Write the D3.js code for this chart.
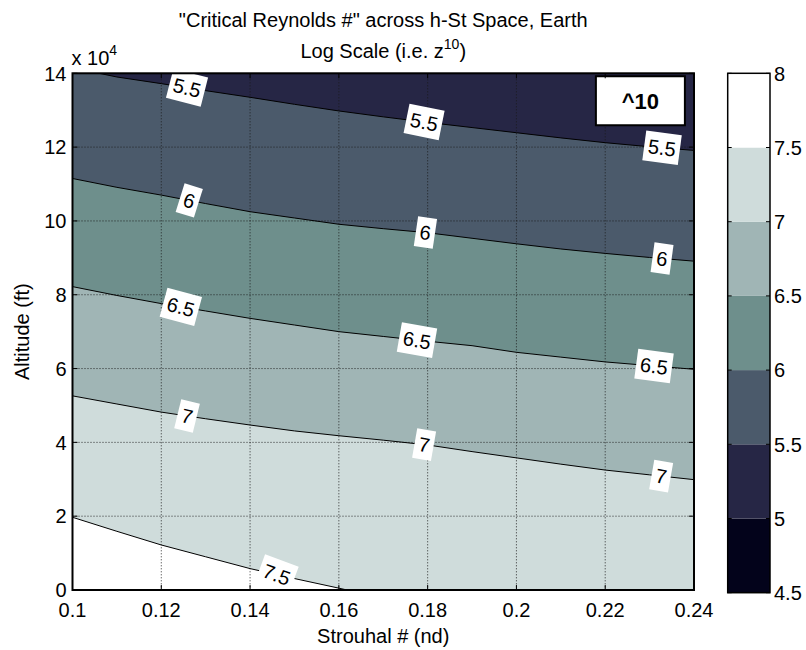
<!DOCTYPE html>
<html>
<head>
<meta charset="utf-8">
<script src="https://cdn.jsdelivr.net/npm/d3@7/dist/d3.min.js"></script>
<style>
body { margin:0; background:#fff; }
text { font-family: Arial, "Liberation Sans", sans-serif; fill:#000; }
</style>
</head>
<body>
<div id="chart-area"></div>
<script>
// Strouhal number samples along x
var strouhal = [0.10,0.11,0.12,0.13,0.14,0.15,0.16,0.17,0.18,0.19,0.20,0.21,0.22,0.23,0.24];

// altitude (ft) where log10(Re_crit) crosses each contour level
var alt55 = [141500,139000,137200,135300,133500,131600,129800,128200,126700,125300,123900,122500,121200,120100,119100];
var alt60 = [111500,109100,107000,104700,102500,100800,99100,97900,96800,95300,93800,92400,91200,90100,89100];
var alt65 = [82200,79800,77600,75600,73600,71800,70000,68700,67400,66200,64400,63100,61800,60800,59800];
var alt70 = [52600,50400,48200,46400,44700,43100,41800,40600,39300,37500,35800,34100,32500,31200,29900];
var alt75 = [19700,15900,12200,9000,5800,3100,500,-2200,null,null,null,null,null,null,null];

var levels = [5.5, 6, 6.5, 7, 7.5];
var levelAlts = [alt55, alt60, alt65, alt70, alt75];

// colorbar
var cbLevels = [4.5, 5, 5.5, 6, 6.5, 7, 7.5, 8];
var cbColors = ["#03031b","#262645","#4b5a6b","#6e8f8c","#a0b5b5","#cfdcdb","#ffffff"];

// contour label spots (level, strouhal)
var labelLevels = [5.5,5.5,5.5, 6,6,6, 6.5,6.5,6.5, 7,7,7, 7.5];
var labelSt = [0.1258,0.1792,0.2328, 0.1263,0.1795,0.2328, 0.1244,0.1776,0.231, 0.1258,0.1792,0.2326, 0.146];

var xTicks = [0.1,0.12,0.14,0.16,0.18,0.2,0.22,0.24];
var yTicks = [0,20000,40000,60000,80000,100000,120000,140000];

var margin = {left:72.5, top:73.3};
var width = 621.5;
var height = 516.7;

var svg = d3.select("#chart-area")
	.append("svg")
		.attr("width", 806)
		.attr("height", 650);

var g = svg.append("g")
	.attr("transform", "translate(" + margin.left + "," + margin.top + ")");

var x = d3.scaleLinear().domain([0.1, 0.24]).range([0, width]);
var y = d3.scaleLinear().domain([0, 140000]).range([height, 0]);

g.append("clipPath").attr("id", "plotclip")
	.append("rect").attr("width", width).attr("height", height);

var plot = g.append("g").attr("clip-path", "url(#plotclip)");

function pts(alts){
	return strouhal.map(function(s, i){ return {st:s, alt:alts[i]}; });
}
function colorFor(level){
	return cbColors[cbLevels.indexOf(level)];
}

// background band (5 - 5.5)
plot.append("rect")
	.attr("width", width)
	.attr("height", height)
	.attr("fill", colorFor(5));

var area = d3.area()
	.defined(function(d){ return d.alt !== null; })
	.x(function(d){ return x(d.st); })
	.y0(y(0))
	.y1(function(d){ return y(d.alt); });

levels.forEach(function(lv, i){
	plot.append("path")
		.datum(pts(levelAlts[i]))
		.attr("fill", colorFor(lv))
		.attr("d", area);
});

// grid
plot.selectAll(".gx").data(xTicks.slice(1, -1)).enter().append("line")
	.attr("x1", function(d){ return x(d); })
	.attr("x2", function(d){ return x(d); })
	.attr("y1", 0).attr("y2", height)
	.attr("stroke", "#1a1a1a").attr("stroke-width", 0.9)
	.attr("stroke-dasharray", "1,2");
plot.selectAll(".gy").data(yTicks.slice(1, -1)).enter().append("line")
	.attr("y1", function(d){ return y(d); })
	.attr("y2", function(d){ return y(d); })
	.attr("x1", 0).attr("x2", width)
	.attr("stroke", "#1a1a1a").attr("stroke-width", 0.9)
	.attr("stroke-dasharray", "1,2");

// contour lines
var line = d3.line()
	.defined(function(d){ return d.alt !== null; })
	.x(function(d){ return x(d.st); })
	.y(function(d){ return y(d.alt); });

levelAlts.forEach(function(alts){
	plot.append("path")
		.datum(pts(alts))
		.attr("fill", "none")
		.attr("stroke", "#000")
		.attr("stroke-width", 1)
		.attr("d", line);
});

// contour labels, turned with the line (a little steeper, as clabel does)
labelLevels.forEach(function(lv, k){
	var alts = levelAlts[levels.indexOf(lv)];
	var st = labelSt[k];
	var i = d3.bisectRight(strouhal, st) - 1;
	var a = alts[i] + (alts[i+1] - alts[i]) * (st - strouhal[i]) / (strouhal[i+1] - strouhal[i]);
	var ang = Math.atan2(y(alts[i+1]) - y(alts[i]), x(strouhal[i+1]) - x(strouhal[i])) * 180 / Math.PI * 1.6;
	var lg = plot.append("g")
		.attr("transform", "translate(" + x(st) + "," + y(a) + ") rotate(" + ang + ")");
	var bg = lg.append("rect").attr("fill", "#fff");
	var t = lg.append("text")
		.attr("text-anchor", "middle")
		.attr("dy", "0.36em")
		.attr("font-size", "20px")
		.text(String(lv));
	var w = t.node().getComputedTextLength();
	bg.attr("x", -w/2 - 4).attr("y", -15).attr("width", w + 8).attr("height", 30);
});

// ^10 box
g.append("rect")
	.attr("x", x(0.2179)).attr("y", y(139200))
	.attr("width", 89).attr("height", 49)
	.attr("fill", "#fff").attr("stroke", "#000").attr("stroke-width", 2);
g.append("text")
	.attr("x", x(0.2179) + 44.5).attr("y", y(139200) + 33)
	.attr("text-anchor", "middle")
	.attr("font-size", "22px")
	.attr("font-weight", "bold")
	.text("^10");

// ticks (inward, all four sides)
var tl = 5;
xTicks.forEach(function(t){
	g.append("line").attr("x1", x(t)).attr("x2", x(t)).attr("y1", height).attr("y2", height - tl).attr("stroke", "#000");
	g.append("line").attr("x1", x(t)).attr("x2", x(t)).attr("y1", 0).attr("y2", tl).attr("stroke", "#000");
	g.append("text")
		.attr("x", x(t)).attr("y", height + 27)
		.attr("text-anchor", "middle")
		.attr("font-size", "20px")
		.text(d3.format("~g")(t));
});
yTicks.forEach(function(t){
	g.append("line").attr("y1", y(t)).attr("y2", y(t)).attr("x1", 0).attr("x2", tl).attr("stroke", "#000");
	g.append("line").attr("y1", y(t)).attr("y2", y(t)).attr("x1", width).attr("x2", width - tl).attr("stroke", "#000");
	g.append("text")
		.attr("x", -6).attr("y", y(t))
		.attr("dy", "0.36em")
		.attr("text-anchor", "end")
		.attr("font-size", "20px")
		.text(t / 10000);
});

// axes box
g.append("rect")
	.attr("width", width).attr("height", height)
	.attr("fill", "none").attr("stroke", "#000").attr("stroke-width", 2);

// x 10^4 multiplier
var mult = g.append("text")
	.attr("x", -1).attr("y", -8)
	.attr("font-size", "20px")
	.text("x 10");
mult.append("tspan").attr("dy", "-10").attr("font-size", "14px").text("4");

// axis labels
svg.append("text")
	.attr("x", margin.left + width / 2).attr("y", 643)
	.attr("text-anchor", "middle")
	.attr("font-size", "20px")
	.text("Strouhal # (nd)");
svg.append("text")
	.attr("transform", "translate(22," + (margin.top + height / 2) + ") rotate(-90)")
	.attr("dy", "0.36em")
	.attr("text-anchor", "middle")
	.attr("font-size", "20px")
	.text("Altitude (ft)");

// title
svg.append("text")
	.attr("x", margin.left + width / 2).attr("y", 27)
	.attr("text-anchor", "middle")
	.attr("font-size", "20px")
	.text("\"Critical Reynolds #\" across h-St Space, Earth");
var t2 = svg.append("text")
	.attr("x", margin.left + width / 2).attr("y", 58)
	.attr("text-anchor", "middle")
	.attr("font-size", "20px")
	.text("Log Scale (i.e. z");
t2.append("tspan").attr("dy", "-9").attr("font-size", "14px").text("10");
t2.append("tspan").attr("dy", "9").text(")");

// colorbar
var cbX = 727.7, cbW = 42.3;
var yc = d3.scaleLinear().domain([4.5, 8]).range([592.7, 73.3]);
cbColors.forEach(function(c, i){
	svg.append("rect")
		.attr("x", cbX).attr("width", cbW)
		.attr("y", yc(cbLevels[i+1]))
		.attr("height", yc(cbLevels[i]) - yc(cbLevels[i+1]))
		.attr("fill", c);
});
cbLevels.forEach(function(v){
	svg.append("line").attr("x1", cbX).attr("x2", cbX + 4).attr("y1", yc(v)).attr("y2", yc(v)).attr("stroke", "#000");
	svg.append("line").attr("x1", cbX + cbW).attr("x2", cbX + cbW - 4).attr("y1", yc(v)).attr("y2", yc(v)).attr("stroke", "#000");
	svg.append("text")
		.attr("x", cbX + cbW + 4).attr("y", yc(v))
		.attr("dy", "0.36em")
		.attr("font-size", "20px")
		.text(v);
});
svg.append("rect")
	.attr("x", cbX).attr("y", yc(8))
	.attr("width", cbW).attr("height", yc(4.5) - yc(8))
	.attr("fill", "none").attr("stroke", "#000").attr("stroke-width", 1.5);
</script>
</body>
</html>
